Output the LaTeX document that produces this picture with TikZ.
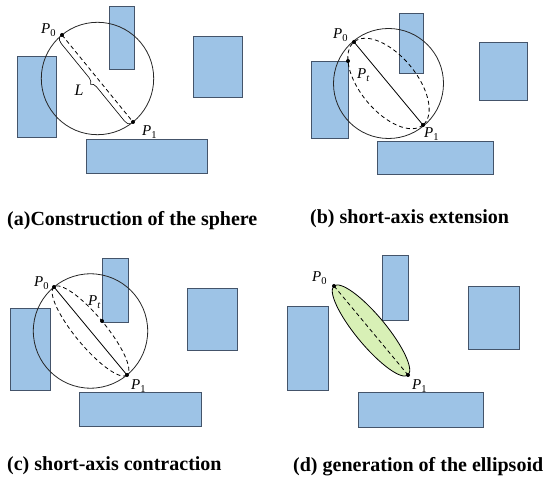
\documentclass[tikz,border=0pt]{standalone}
\usepackage{fontspec}
\setmainfont{Liberation Serif}
\usetikzlibrary{calc,decorations.pathreplacing}
\definecolor{boxblue}{HTML}{9DC3E6}
\definecolor{boxedge}{HTML}{44546A}
\definecolor{ellgreen}{HTML}{D8F0B6}
\tikzset{
  obst/.style={fill=boxblue, draw=boxedge, line width=0.8pt},
  sphere/.style={draw=black!85, line width=0.8pt},
  axisdash/.style={dash pattern=on 4pt off 3pt, line width=0.8pt},
  plab/.style={font=\fontsize{15}{17}\selectfont, inner sep=0pt, anchor=base west},
  caption/.style={font=\bfseries\fontsize{20}{22}\selectfont, inner sep=0pt, anchor=base west}
}
\newcommand{\Pnt}[1]{\textit{P}\textsubscript{#1}}
\begin{document}
\begin{tikzpicture}[x=1pt,y=-1pt]
\useasboundingbox (0,0) rectangle (550,486);
%(a) sfera
\draw[obst] (17,56) rectangle (56,137);
\draw[obst] (109,6) rectangle (134,69);
\draw[obst] (193,36) rectangle (242,97);
\draw[obst] (86,139) rectangle (207,173);
\coordinate (a0) at (62,35);
\coordinate (a1) at (133,122);
\draw[sphere] ($(a0)!0.5!(a1)$) circle[radius=56.2];
\draw[axisdash] (a0) -- (a1);
\draw[decorate, decoration={brace, amplitude=6pt, raise=3pt}, line width=0.6pt] (a1) -- (a0);
\node[font=\itshape\fontsize{16}{18}\selectfont] (labL) at (79,90) {L};
\fill (a0) circle[radius=2];
\fill (a1) circle[radius=2];
\node[plab] (la0) at (41,34) {\Pnt{0}};
\node[plab] (la1) at (142,136) {\Pnt{1}};
\node[caption] (capa) at (7,226) {(a)Construction of the sphere};
%(b) estensione
\draw[obst] (311,61) rectangle (348,138);
\draw[obst] (399,13) rectangle (423,73);
\draw[obst] (479,42) rectangle (527,100);
\draw[obst] (377,141) rectangle (493,174);
\coordinate (b0) at (354,42);
\coordinate (b1) at (423,125);
\coordinate (bt) at (348,61);
\draw[sphere] ($(b0)!0.5!(b1)$) circle[radius=55];
\draw[axisdash, shift={(388.5,83.5)}, rotate=-50.3] (0,0) ellipse[x radius=54, y radius=28];
\draw[line width=0.8pt] (b0) -- (b1);
\foreach \p in {b0,b1,bt}
  \fill (\p) circle[radius=2];
\node[plab] (lb0) at (333,39) {\Pnt{0}};
\node[plab] (lb1) at (424,138) {\Pnt{1}};
\node[plab] (lbt) at (357,79) {\textit{P}\textsubscript{\textit{t}}};
\node[caption] (capb) at (310,224) {(b) short-axis extension};
%(c) contrazione
\draw[obst] (10,308) rectangle (50,390);
\draw[obst] (102,258) rectangle (128,322);
\draw[obst] (187,288) rectangle (237,350);
\draw[obst] (79,392) rectangle (201,426);
\coordinate (c0) at (54,287);
\coordinate (c1) at (127,375);
\coordinate (ct) at (102,321);
\draw[sphere] ($(c0)!0.5!(c1)$) circle[radius=57.2];
\draw[axisdash, shift={(90.5,331)}, rotate=-50.3] (0,0) ellipse[x radius=57.2, y radius=15.2];
\draw[line width=0.8pt] (c0) -- (c1);
\foreach \p in {c0,c1,ct}
  \fill (\p) circle[radius=2];
\node[plab] (lc0) at (34,287) {\Pnt{0}};
\node[plab] (lc1) at (131,390) {\Pnt{1}};
\node[plab] (lct) at (88,306) {\textit{P}\textsubscript{\textit{t}}};
\node[caption] (capc) at (7,471) {(c) short-axis contraction};
%(d) ellissoide
\draw[obst] (287,306) rectangle (328,390);
\draw[obst] (382,255) rectangle (408,320);
\draw[obst] (468,286) rectangle (519,349);
\draw[obst] (358,392) rectangle (483,427);
\coordinate (d0) at (334,286);
\coordinate (d1) at (408,375);
\draw[fill=ellgreen, line width=0.8pt, shift={(371,330.5)}, rotate=-50.3] (0,0) ellipse[x radius=57.9, y radius=15];
\draw[axisdash] (d0) -- (d1);
\fill (d0) circle[radius=2];
\fill (d1) circle[radius=2];
\node[plab] (ld0) at (312,282) {\Pnt{0}};
\node[plab] (ld1) at (412,390) {\Pnt{1}};
\node[caption] (capd) at (293,472) {(d) generation of the ellipsoid};
\end{tikzpicture}
\end{document}
